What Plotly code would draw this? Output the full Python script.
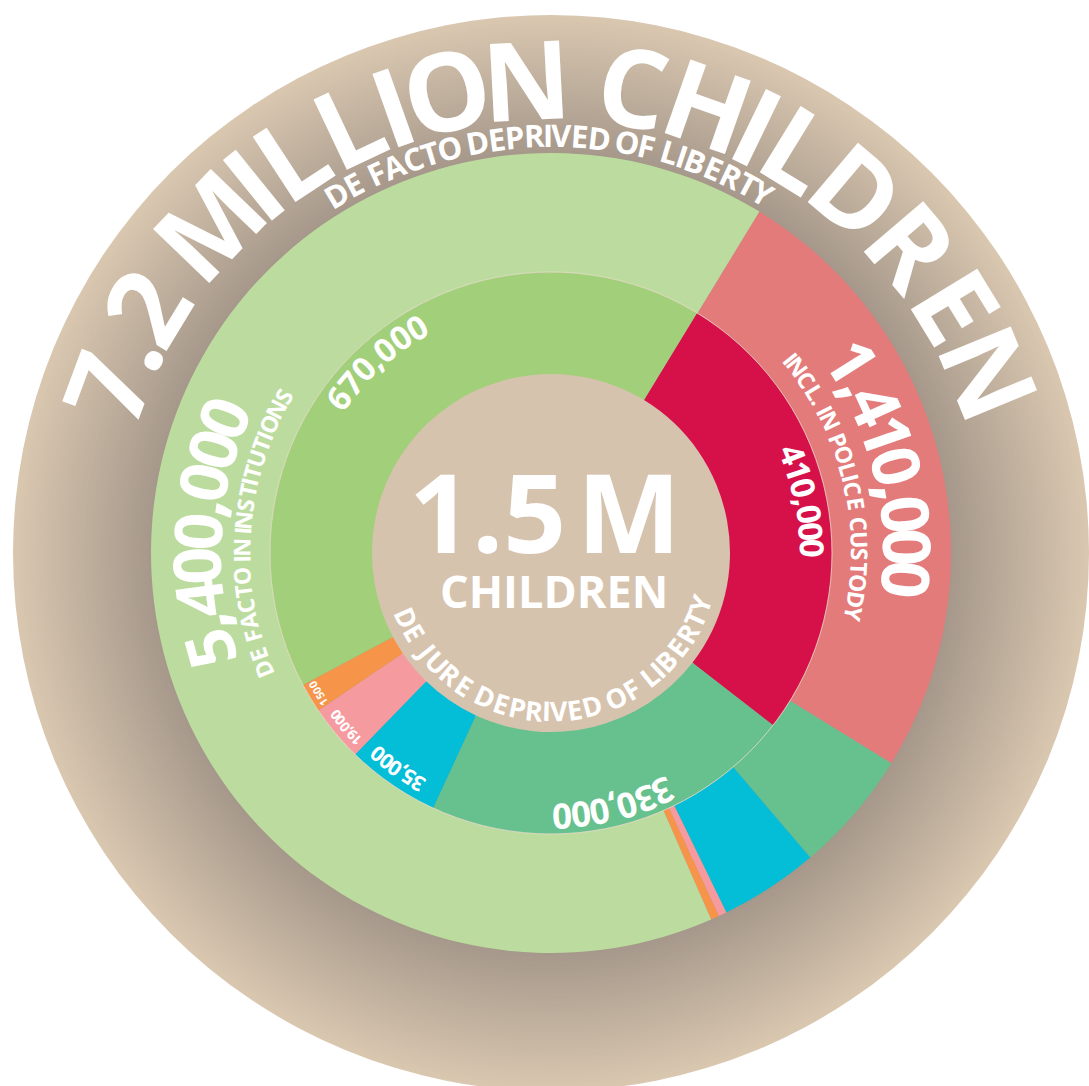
import math
import plotly.graph_objects as go

# --- data ----------------------------------------------------------------
# inner ring: children de jure deprived of liberty (1.5 M)
inner_labels = ["Administration of justice", "Migration", "Armed conflict",
                "Living with parents in prison", "National security", "Institutions"]
inner_text = ["410,000", "330,000", "35,000", "19,000", "1500", "670,000"]
# slice sizes as drawn in the original (degrees of arc, not to scale)
inner_share = [96.5, 77.0, 19.4, 11.7, 6.1, 149.3]
inner_colors = ["#d6114a", "#67c18e", "#04bdd7", "#f59ba0", "#f6954a", "#a2cf79"]

# outer ring: children de facto deprived of liberty (7.2 M)
outer_labels = ["Police custody", "Migration", "Armed conflict",
                "Living with parents in prison", "National security", "Institutions"]
outer_text = ["1,410,000", "", "", "", "", "5,400,000"]
outer_share = [90.3, 17.9, 14.4, 1.2, 1.2, 235.0]
outer_colors = ["#e47b7b", "#67c18e", "#04bdd7", "#f59ba0", "#f6954a", "#bcdc9f"]

title_text = "7.2 MILLION CHILDREN"
subtitle_text = "DE FACTO DEPRIVED OF LIBERTY"
institutions_note = "DE FACTO IN INSTITUTIONS"
police_note = "INCL. IN POLICE CUSTODY"
center_big = ["1.5", "M"]
center_small = "CHILDREN"
center_arc = "DE JURE DEPRIVED OF LIBERTY"

W, H = 1089, 1086
CX, CY = 551, 553
R_BG, R_OUT, R_MID, R_IN = 538, 400, 281, 179
FONT = "Open Sans, sans-serif"

# rough advance widths (em) used to spread letters along an arc
WID = {" ": .278, ".": .278, ",": .278, "I": .278, "J": .556, "M": .833,
       "W": .944, "O": .778, "G": .778, "E": .667, "P": .667, "S": .667,
       "V": .667, "Y": .667, "X": .667, "F": .611, "L": .611, "T": .611}


def wid(c):
    if c.isdigit():
        return .556
    return WID.get(c, .722)


def pt(theta, r):
    a = math.radians(theta)
    return CX + r * math.sin(a), CY - r * math.cos(a)


fig = go.Figure()

# background disc with radial shading
light = (217, 199, 176)
dark = (165, 151, 138)
steps = 70
for i in range(steps + 1):
    r = R_BG - (R_BG - R_OUT + 2) * i / steps
    f = i / steps
    col = tuple(round(light[k] + (dark[k] - light[k]) * f) for k in range(3))
    fig.add_shape(type="circle", xref="x", yref="y", layer="below",
                  x0=CX - r, x1=CX + r, y0=CY - r, y1=CY + r,
                  fillcolor="rgb(%d,%d,%d)" % col, line_width=0)
fig.add_shape(type="circle", xref="x", yref="y", layer="below",
              x0=CX - R_IN - 2, x1=CX + R_IN + 2, y0=CY - R_IN - 2, y1=CY + R_IN + 2,
              fillcolor="#d6c3ae", line_width=0)


def dom(r):
    return dict(x=[(CX - r) / W, (CX + r) / W],
                y=[(H - CY - r) / H, (H - CY + r) / H])


fig.add_trace(go.Pie(labels=outer_labels, values=outer_share, sort=False,
                     direction="clockwise", rotation=31.4, hole=R_MID / R_OUT,
                     marker=dict(colors=outer_colors, line=dict(width=0)),
                     textinfo="none", hoverinfo="skip", domain=dom(R_OUT),
                     showlegend=False))
fig.add_trace(go.Pie(labels=inner_labels, values=inner_share, sort=False,
                     direction="clockwise", rotation=31.3, hole=R_IN / R_MID,
                     marker=dict(colors=inner_colors, line=dict(width=0)),
                     textinfo="none", hoverinfo="skip", domain=dom(R_MID),
                     showlegend=False))

# thin light seam between the two rings
fig.add_shape(type="circle", xref="x", yref="y", layer="above",
              x0=CX - R_MID, x1=CX + R_MID, y0=CY - R_MID, y1=CY + R_MID,
              line=dict(color="rgba(235,222,205,0.8)", width=1))


def arc_text(text, a0, a1, r, size, inward=False):
    ws = [wid(c) for c in text]
    pos, s = [], 0
    for w in ws:
        pos.append(s + w / 2)
        s += w
    first, last = pos[0], pos[-1]
    for c, p in zip(text, pos):
        if c == " ":
            continue
        t = a0 + (a1 - a0) * (p - first) / (last - first)
        x, y = pt(t, r)
        ang = t + 180 if inward else t
        ang = (ang + 180) % 360 - 180
        fig.add_annotation(x=x, y=y, xref="x", yref="y", text=c, textangle=ang,
                           showarrow=False, xanchor="center", yanchor="middle",
                           font=dict(family=FONT, size=size, color="white", weight=700))


arc_text(title_text, -69.6, 67.6, 476, 109)
arc_text(subtitle_text, -30.8, 30.5, 418, 31)

arc_text(outer_text[5], 254.4, 292.5, 356, 66)
arc_text(institutions_note, 248, 300.4, 310, 23)
arc_text(outer_text[0], 57.6, 94.3, 358, 66)
arc_text(police_note, 51.0, 101.5, 309, 23)

arc_text(inner_text[5], 306, 329.2, 263, 33)
arc_text(inner_text[0], 67.9, 89.1, 261, 33)
arc_text(inner_text[1], 154.9, 177.6, 264, 35)
arc_text(inner_text[2], 210, 220.7, 266, 21)
arc_text(inner_text[3], 226, 233.1, 270, 14)
arc_text(inner_text[4], 236.8, 241, 272, 11)

arc_text(center_arc, 246, 108.8, 158, 27, inward=True)

# centre: "1.5" and "M" set separately for the tight spacing of the original
fig.add_annotation(x=487, y=510, xref="x", yref="y", text=center_big[0], showarrow=False,
                   font=dict(family=FONT, size=110, color="white", weight=700))
fig.add_annotation(x=629, y=510, xref="x", yref="y", text=center_big[1], showarrow=False,
                   font=dict(family=FONT, size=110, color="white", weight=700))
fig.add_annotation(x=554, y=590, xref="x", yref="y", text=center_small, showarrow=False,
                   font=dict(family=FONT, size=45, color="white", weight=700))

fig.update_xaxes(range=[0, W], visible=False, fixedrange=True)
fig.update_yaxes(range=[H, 0], visible=False, fixedrange=True)
fig.update_layout(width=W, height=H, autosize=False,
                  margin=dict(l=0, r=0, t=0, b=0),
                  paper_bgcolor="white", plot_bgcolor="white")

# drop the browser's default body margin so the figure fills the window exactly
fig.write_html("out.html", config={"displayModeBar": False},
               post_script="document.body.style.margin='0';"
                           "document.body.style.overflow='hidden';")
